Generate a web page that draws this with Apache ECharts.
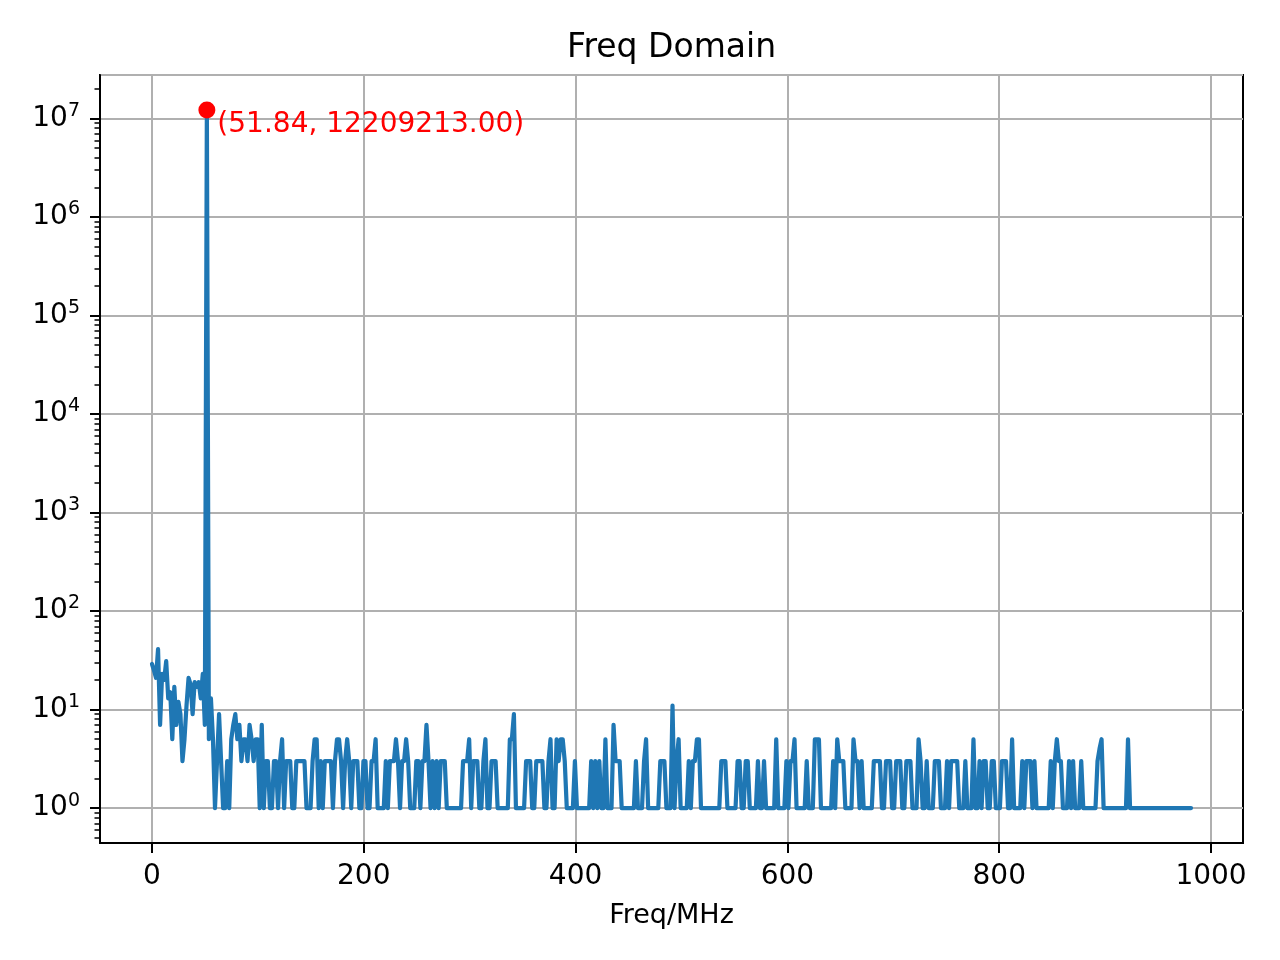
<!DOCTYPE html>
<html><head><meta charset="utf-8">
<script src="https://cdn.jsdelivr.net/npm/echarts@6/dist/echarts.min.js"></script>
<style>html,body{margin:0;padding:0;background:#fff}#chart{width:1280px;height:960px}</style>
</head><body><div id="chart"></div>
<script>
// frequency bin spacing (MHz)
const freqStep = 1.92;
// magnitude per bin
const magnitude = [
29,25,21,41,7,23,20,31,13,15,
5,17,7,12,9,3,5,11,21,18,
9,19,17,19,13,23,7,12209213,5,13,
5,1,3,9,3,1,1,3,1,5,
7,9,5,7,3,5,5,3,7,5,
3,5,5,1,7,1,3,3,1,1,
3,3,1,3,5,1,3,3,3,1,
1,3,3,3,3,3,1,1,1,3,
5,5,1,3,1,3,3,3,3,1,
3,5,5,3,1,3,5,3,1,3,
3,3,1,1,3,3,1,1,3,3,
5,1,1,1,1,3,1,3,3,3,
5,3,1,3,3,5,3,1,1,1,
3,3,1,3,3,7,3,1,3,1,
3,1,3,3,3,1,1,1,1,1,
1,1,1,3,3,3,5,1,3,3,
3,1,1,3,5,1,1,3,3,3,
1,1,1,1,1,1,5,5,9,1,
1,1,1,1,3,3,3,1,1,3,
3,3,3,1,1,3,5,1,1,5,
3,5,5,3,1,1,1,1,3,1,
1,1,1,1,1,1,3,1,3,1,
3,1,1,5,1,1,1,7,3,3,
3,1,1,1,1,1,1,1,3,1,
1,1,3,5,1,1,1,1,1,1,
3,3,3,1,1,1,11,1,3,5,
1,1,1,1,3,1,3,3,5,5,
1,1,1,1,1,1,1,1,1,1,
3,3,3,1,1,1,1,1,3,3,
1,1,3,3,1,1,1,1,3,1,
1,3,1,1,1,1,1,5,1,1,
1,1,3,1,3,3,5,1,1,1,
1,1,3,1,1,1,5,5,5,1,
1,1,1,1,1,3,1,5,3,3,
3,1,1,1,1,5,3,3,1,3,
1,1,1,1,1,3,3,3,3,1,
1,3,3,3,1,1,3,3,3,1,
1,3,3,3,1,1,1,5,3,1,
1,3,1,1,1,3,3,3,1,1,
1,3,1,3,3,3,3,1,1,1,
3,1,1,1,5,1,1,3,1,3,
3,1,1,3,3,1,1,1,3,3,
3,1,1,5,1,1,1,1,3,1,
3,3,3,1,3,1,1,1,1,1,
1,1,3,1,3,5,3,3,1,1,
1,3,1,3,1,1,1,3,1,1,
1,1,1,1,1,3,4,5,1,1,
1,1,1,1,1,1,1,1,1,1,
5,1,1,1,1,1,1,1,1,1,
1,1,1,1,1,1,1,1,1,1,
1,1,1,1,1,1,1,1,1,1,
1,1
];
const xTicks = [0, 200, 400, 600, 800, 1000];
const minorSubs = [2, 3, 4, 5, 6, 7, 8, 9];
const peakFreq = 51.84;
const peakValue = 12209213;
const titleText = 'Freq Domain';
const xLabelText = 'Freq/MHz';

const freq = magnitude.map((_, i) => +(i * freqStep).toFixed(2));
const lineData = magnitude.map((v, i) => [freq[i], v]);
const fLast = freq[freq.length - 1];
const xMin = -0.05 * fLast, xMax = 1.05 * fLast;
const logHi = Math.log10(Math.max.apply(null, magnitude));
const logLo = Math.log10(Math.min.apply(null, magnitude));
const pad = 0.05 * (logHi - logLo);
const yLogMin = logLo - pad, yLogMax = logHi + pad;
const yMin = Math.pow(10, yLogMin), yMax = Math.pow(10, yLogMax);
const minorVals = [];
for (let n = -1; n <= 8; n++) {
  minorSubs.forEach(k => {
    const lv = Math.log10(k) + n;
    if (lv > yLogMin && lv < yLogMax) minorVals.push(lv);
  });
}
const FONT = 'DejaVu Sans';
const chart = echarts.init(document.getElementById('chart'), null, {renderer: 'canvas'});
chart.setOption({
  animation: false,
  backgroundColor: '#fff',
  graphic: [{
    type: 'text', x: 671.5, y: 48,
    style: {text: titleText, fontSize: 33, fontFamily: FONT, fill: '#000', align: 'center', verticalAlign: 'middle'}
  }],
  grid: {left: 100, right: 37, top: 75, bottom: 117, show: true, borderColor: '#000', borderWidth: 2, backgroundColor: 'transparent'},
  xAxis: {
    type: 'value', min: xMin, max: xMax,
    axisLine: {show: true, onZero: false, lineStyle: {color: '#000', width: 2}},
    axisTick: {show: true, length: 10, customValues: xTicks, lineStyle: {color: '#000', width: 2}},
    axisLabel: {customValues: xTicks, color: '#000', fontSize: 28, fontFamily: FONT, margin: 20,
      formatter: v => String(Math.round(v))},
    splitLine: {show: true, lineStyle: {color: '#b0b0b0', width: 2}},
    name: xLabelText, nameLocation: 'middle', nameGap: 59,
    nameTextStyle: {color: '#000', fontSize: 27, fontFamily: FONT}
  },
  yAxis: [{
    type: 'log', logBase: 10, min: yMin, max: yMax,
    axisLine: {show: true, onZero: false, lineStyle: {color: '#000', width: 2}},
    axisTick: {show: true, length: 10, lineStyle: {color: '#000', width: 2}},
    axisLabel: {
      showMinLabel: false, showMaxLabel: false, margin: 20,
      formatter: v => '{b|10}{s|' + Math.round(Math.log10(v)) + '}',
      rich: {
        b: {fontSize: 28, lineHeight: 34, fontFamily: FONT, color: '#000'},
        s: {fontSize: 19, lineHeight: 20, verticalAlign: 'top', fontFamily: FONT, color: '#000'}
      }
    },
    splitLine: {show: true, lineStyle: {color: '#b0b0b0', width: 2}}
  }, {
    type: 'value', min: yLogMin, max: yLogMax, position: 'left',
    axisLine: {show: false, onZero: false},
    axisLabel: {show: false},
    splitLine: {show: false},
    axisTick: {show: true, length: 5.5, customValues: minorVals, lineStyle: {color: '#000', width: 1.5}}
  }],
  series: [{
    type: 'line', data: lineData, showSymbol: false, symbol: 'none', xAxisIndex: 0, yAxisIndex: 0,
    lineStyle: {color: '#1f77b4', width: 4.2, join: 'round', cap: 'round'}, z: 2
  }, {
    type: 'scatter', data: [[peakFreq, peakValue]], symbolSize: 17, xAxisIndex: 0, yAxisIndex: 0,
    itemStyle: {color: '#ff0000', opacity: 1}, z: 3,
    label: {
      show: true, position: 'right', distance: 3, offset: [-1, 15],
      formatter: '(' + peakFreq.toFixed(2) + ', ' + peakValue.toFixed(2) + ')',
      color: '#ff0000', fontSize: 28, fontFamily: FONT
    }
  }]
});
</script></body></html>
